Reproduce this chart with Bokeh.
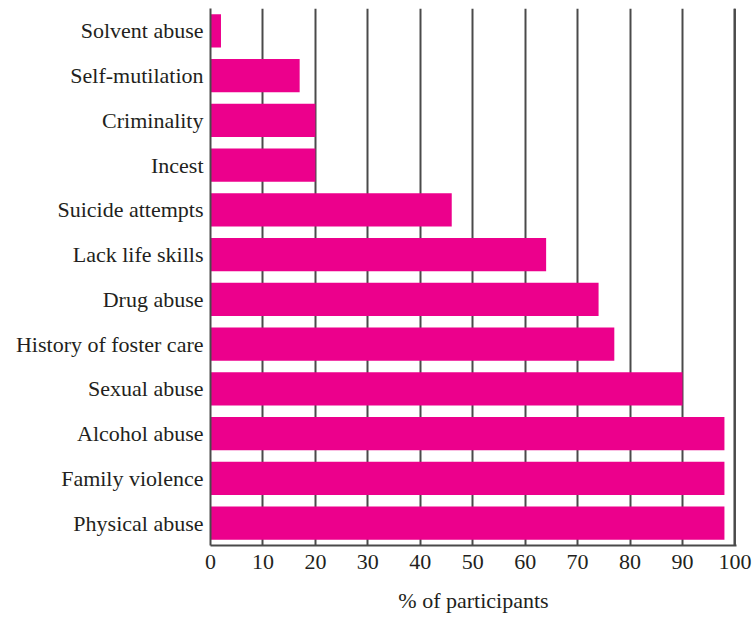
from bokeh.plotting import figure
from bokeh.models import FactorRange, Range1d, FixedTicker, Span
from bokeh.embed import file_html
from bokeh.resources import INLINE

categories = ["Solvent abuse", "Self-mutilation", "Criminality", "Incest",
              "Suicide attempts", "Lack life skills", "Drug abuse",
              "History of foster care", "Sexual abuse", "Alcohol abuse",
              "Family violence", "Physical abuse"]
values = [2, 17, 20, 20, 46, 64, 74, 77, 90, 98, 98, 98]
x_ticks = [0, 10, 20, 30, 40, 50, 60, 70, 80, 90, 100]

FONT = "Liberation Serif"
TXT = "#231f20"
LINE = "#4a4a4a"

p = figure(width=753, height=619, output_backend="svg", toolbar_location=None,
           y_range=FactorRange(*reversed(categories), range_padding=0),
           x_range=Range1d(0, 100.3),
           min_border_left=210, min_border_right=17, min_border_top=8,
           min_border_bottom=74)
p.hbar(y=categories, right=values, left=0, height=0.74, color="#EC008C", line_color=None)

p.outline_line_color = None
p.ygrid.grid_line_color = None
p.xgrid.ticker = FixedTicker(ticks=x_ticks)
p.xgrid.grid_line_color = LINE
p.xgrid.grid_line_width = 2
p.xgrid.level = "underlay"
p.add_layout(Span(location=x_ticks[-1], dimension="height", line_color=LINE,
                  line_width=2, level="underlay"))

p.xaxis.ticker = FixedTicker(ticks=x_ticks)
p.xaxis.major_tick_in = 0
p.xaxis.major_tick_out = 0
p.xaxis.minor_tick_line_color = None
p.xaxis.axis_line_color = LINE
p.xaxis.axis_line_width = 2
p.xaxis.major_label_text_font = FONT
p.xaxis.major_label_text_font_size = "22px"
p.xaxis.major_label_text_color = TXT
p.xaxis.major_label_standoff = 9
p.xaxis.axis_label = "% of participants"
p.xaxis.axis_label_text_font = FONT
p.xaxis.axis_label_text_font_size = "22px"
p.xaxis.axis_label_text_font_style = "normal"
p.xaxis.axis_label_text_color = TXT
p.xaxis.axis_label_standoff = 16

p.yaxis.major_tick_in = 0
p.yaxis.major_tick_out = 0
p.yaxis.axis_line_color = LINE
p.yaxis.axis_line_width = 2
p.yaxis.major_label_text_font = FONT
p.yaxis.major_label_text_font_size = "22px"
p.yaxis.major_label_text_color = TXT
p.yaxis.major_label_standoff = 7

open("out.html", "w").write(file_html(p, INLINE))
